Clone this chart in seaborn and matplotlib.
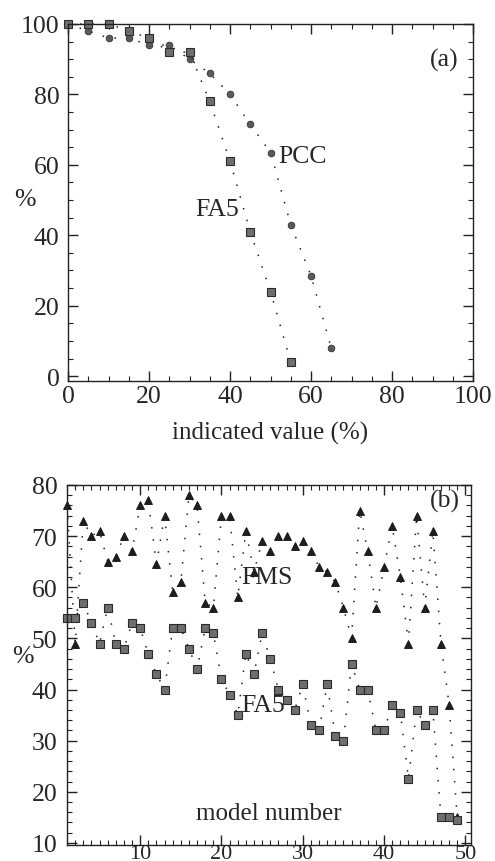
import numpy as np
import matplotlib
matplotlib.use("Agg")
import matplotlib.pyplot as plt
import seaborn as sns
from matplotlib.ticker import MultipleLocator

# panel (a): share of cases above the indicated value
ind_value = [0, 5, 10, 15, 20, 25, 30, 35, 40, 45, 50, 55, 60, 65]
pcc_pct = [100, 98, 96, 96, 94, 94, 90, 86, 80, 71.5, 63.5, 43, 28.5, 8]
fa5_value = [0, 5, 10, 15, 20, 25, 30, 35, 40, 45, 50, 55]
fa5_pct = [100, 100, 100, 98, 96, 92, 92, 78, 61, 41, 24, 4]

# panel (b): per-model scores
model_no = list(range(1, 50))
fms_b = [76, 49, 73, 70, 71, 65, 66, 70, 67, 76, 77, 64.5, 74, 59, 61, 78, 76,
         57, 56, 74, 74, 58, 71, 63, 69, 67, 70, 70, 68, 69, 67, 64, 63, 61,
         56, 50, 75, 67, 56, 64, 72, 62, 49, 74, 56, 71, 49, 37, 15]
fa5_b = [54, 54, 57, 53, 49, 56, 49, 48, 53, 52, 47, 43, 40, 52, 52, 48, 44,
         52, 51, 42, 39, 35, 47, 43, 51, 46, 40, 38, 36, 41, 33, 32, 41, 31,
         30, 45, 40, 40, 32, 32, 37, 35.5, 22.5, 36, 33, 36, 15, 15, 14.5]

sns.set_theme(style="ticks")
plt.rcParams['font.family'] = ['Liberation Serif', 'DejaVu Serif']

fig = plt.figure(figsize=(4.95, 8.62), dpi=100)
ax1 = fig.add_axes([0.1374, 0.5568, 0.8182, 0.4142])
ax2 = fig.add_axes([0.1354, 0.0186, 0.8162, 0.4176])

fs = 18.5
dots = (0, (1, 7))
sq = dict(marker='s', markersize=5.3, markerfacecolor='#6e6e6e',
          markeredgecolor='#2a2a2a', markeredgewidth=0.8)

# --- (a)
sns.lineplot(x=ind_value, y=pcc_pct, ax=ax1, color='#222222', linestyle=dots,
             linewidth=1.1, marker='o', markersize=4.8, markerfacecolor='#5a5a5a',
             markeredgecolor='#333333', markeredgewidth=0.6, clip_on=False)
sns.lineplot(x=fa5_value, y=fa5_pct, ax=ax1, color='#222222', linestyle=dots,
             linewidth=1.1, clip_on=False, **sq)

ax1.set_xlim(0, 100)
ax1.set_ylim(-1.4, 100)
ax1.xaxis.set_major_locator(MultipleLocator(20))
ax1.xaxis.set_minor_locator(MultipleLocator(5))
ax1.yaxis.set_major_locator(MultipleLocator(20))
ax1.yaxis.set_minor_locator(MultipleLocator(5))
ax1.set_xlabel('indicated value (%)', fontsize=18, labelpad=10)
ax1.set_ylabel('%', fontsize=fs, rotation=0, va='center', ha='center')
ax1.yaxis.set_label_coords(-0.106, 0.51)
ax1.text(52, 62.5, 'PCC', fontsize=fs, va='center', ha='left')
ax1.text(42.3, 47.5, 'FA5', fontsize=fs, va='center', ha='right')
ax1.text(96.5, 90, '(a)', fontsize=fs, va='center', ha='right')

# --- (b)
sns.lineplot(x=model_no, y=fms_b, ax=ax2, color='#222222', linestyle=dots,
             linewidth=1.1, marker='^', markersize=5.2, markerfacecolor='#1e1e1e',
             markeredgecolor='#111111', markeredgewidth=0.6, clip_on=False)
sns.lineplot(x=model_no, y=fa5_b, ax=ax2, color='#222222', linestyle=dots,
             linewidth=1.1, clip_on=False, **sq)

ax2.set_xlim(1, 50.7)
ax2.set_ylim(9.6, 80)
ax2.xaxis.set_major_locator(MultipleLocator(10))
ax2.xaxis.set_minor_locator(MultipleLocator(1))
ax2.yaxis.set_major_locator(MultipleLocator(10))
ax2.yaxis.set_minor_locator(MultipleLocator(2))
ax2.set_ylabel('%', fontsize=fs, rotation=0, va='center', ha='center')
ax2.yaxis.set_label_coords(-0.109, 0.526)
ax2.text(25.6, 62, 'FMS', fontsize=fs, va='center', ha='center')
ax2.text(22.4, 37, 'FA5', fontsize=fs, va='center', ha='left')
ax2.text(25.8, 15.8, 'model number', fontsize=18, va='center', ha='center')
ax2.text(49.3, 77, '(b)', fontsize=fs, va='center', ha='right')

for ax in (ax1, ax2):
    for s in ax.spines.values():
        s.set_visible(True)
        s.set_color('#222222')
        s.set_linewidth(1.0)
    ax.tick_params(which='both', direction='in', top=True, right=True,
                   color='#222222')
    ax.tick_params(which='major', length=7, width=1.0, labelsize=fs)
    ax.tick_params(which='minor', length=3.5, width=0.8)
    ax.set_facecolor('white')

ax1.tick_params(axis='y', pad=6)
ax1.tick_params(axis='x', pad=3)
ax2.tick_params(axis='y', pad=7)
ax2.tick_params(axis='x', pad=-0.8, labelsize=16)

fig.savefig('out.png', dpi=100)
